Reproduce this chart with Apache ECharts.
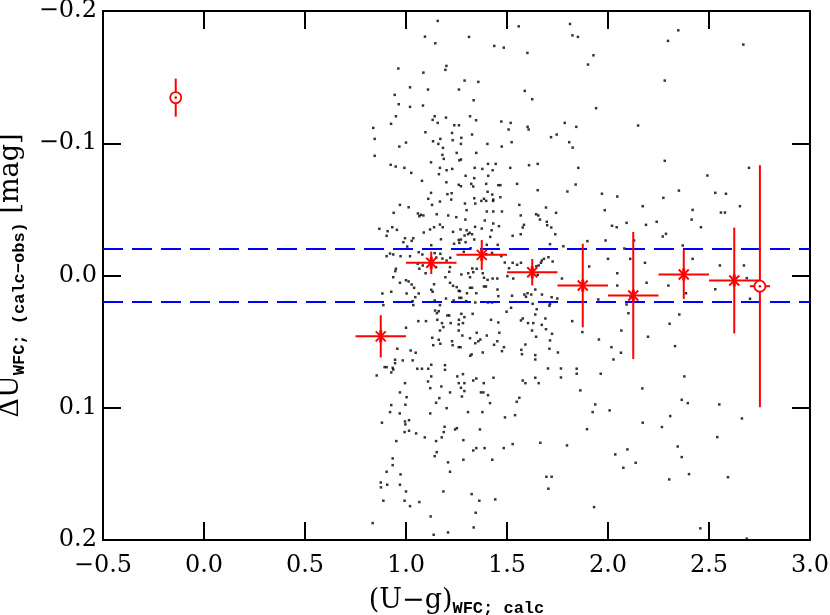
<!DOCTYPE html>
<html>
<head>
    <meta charset="utf-8">
    <script src="https://cdn.jsdelivr.net/npm/echarts@6/dist/echarts.min.js"></script>
    <style type="text/css">
        body { margin: 0; background: #fff; }
        #main { width: 830px; height: 615px; }
    </style>
</head>
<body>
    <div id="main"></div>
    <script>
        // binned means (stars) with y errors, bin half width 0.125
        const binX = [0.875, 1.125, 1.375, 1.625, 1.875, 2.125, 2.375, 2.625];
        const binY = [0.046, -0.0096, -0.0156, -0.0025, 0.0076, 0.0151, -0.0008, 0.0038];
        const binErrY = [0.016, 0.0085, 0.0113, 0.010, 0.0316, 0.048, 0.0185, 0.040];
        const binHalf = [0.125, 0.125, 0.125, 0.125, 0.125, 0.125, 0.125, 0.125];

        // the two open-circle points
        const circX = [-0.14, 2.752];
        const circY = [-0.1345, 0.0081];
        const circErrX = [0, 0.05];
        const circErrY = [0.0144, 0.0915];

        const limitLines = [0.02, -0.02];
        const xTicks = [-0.5, 0.0, 0.5, 1.0, 1.5, 2.0, 2.5, 3.0];
        const yTicks = [-0.2, -0.1, 0.0, 0.1, 0.2];

        // individual stars
        const dots = [
            [1.157,-0.1925],[1.094,-0.1806],[1.145,-0.1756],[1.200,-0.1585],[1.195,-0.1555],[0.962,-0.1565],[1.086,-0.1534],[1.020,-0.1423],[1.109,-0.1406],[1.262,-0.1406],[0.944,-0.1366],[0.964,-0.1295],[1.020,-0.1275],[1.084,-0.1285],[0.950,-0.1204],[1.142,-0.1204],[1.198,-0.1194],[1.132,-0.1177],[1.157,-0.1154],[0.838,-0.1116],[0.926,-0.1147],[1.239,-0.1136],[1.262,-0.1136],[1.096,-0.1083],[1.228,-0.1078],
            [0.845,-0.1033],[1.000,-0.1005],[1.134,-0.1015],[1.170,-0.1033],[1.160,-0.0995],[1.231,-0.1023],[0.967,-0.0975],[1.183,-0.0965],[0.845,-0.0905],[1.180,-0.0912],[1.251,-0.0927],[1.187,-0.0882],[1.264,-0.0871],[1.124,-0.0856],[0.924,-0.0837],[0.949,-0.0824],[0.992,-0.0814],[1.168,-0.0814],[1.201,-0.0796],[1.229,-0.0806],[1.026,-0.0776],[1.163,-0.0766],[1.079,-0.0716],[1.200,-0.0705],[1.261,-0.0686],[1.124,-0.0625],[1.205,-0.0615],[1.226,-0.0622],[1.110,-0.0580],[1.168,-0.0559],[1.224,-0.0574],[1.129,-0.0534],[0.970,-0.0534],[1.013,-0.0516],[0.939,-0.0474],[1.059,-0.0469],[1.074,-0.0459],[1.086,-0.0454],[1.066,-0.0448],[1.152,-0.0463],[1.209,-0.0454],[1.249,-0.0441],[1.168,-0.0385],[1.182,-0.0365],[1.139,-0.0365],[0.932,-0.0365],[0.868,-0.0353],[0.909,-0.0335],[0.955,-0.0345],[1.119,-0.0348],[1.088,-0.0325],[1.233,-0.0330],[0.904,-0.0300],[0.995,-0.0282],[1.036,-0.0282],[1.028,-0.0262],[1.173,-0.0274],[1.261,-0.0269],[0.987,-0.0252],[1.238,-0.0240],[1.125,-0.0229],[1.006,-0.0219],[1.264,-0.0247],[0.921,-0.0166],[0.937,-0.0159],[0.904,-0.0146],[0.973,-0.0146],[1.020,-0.0146],[1.063,-0.0176],[1.081,-0.0159],[1.142,-0.0169],[1.170,-0.0164],[1.150,-0.0136],[1.180,-0.0128],[1.219,-0.0134],[1.201,-0.0113],[1.058,-0.0088],[1.083,-0.0076],[1.218,-0.0063],[1.066,-0.0051],[0.950,-0.0051],[1.149,-0.0063],
            [0.947,-0.0033],[1.097,-0.0017],[1.214,-0.0028],[0.937,0.0013],[1.195,0.0013],[1.000,0.0036],[1.013,0.0045],[0.970,0.0055],[1.028,0.0068],[1.139,0.0066],[1.218,0.0055],[1.233,0.0078],[1.251,0.0088],[1.040,0.0093],[1.125,0.0108],[1.132,0.0123],[0.883,0.0136],[0.927,0.0123],[1.003,0.0136],[1.063,0.0136],[1.261,0.0116],[1.046,0.0164],[1.198,0.0174],[1.264,0.0169],[1.033,0.0194],[1.142,0.0189],[1.236,0.0189],[0.888,0.0224],[1.036,0.0224],[1.168,0.0224],[1.144,0.0265],[1.162,0.0270],[1.153,0.0285],[1.205,0.0302],[1.214,0.0302],[1.262,0.0335],[1.061,0.0345],[1.099,0.0345],[1.155,0.0335],[1.178,0.0360],[1.221,0.0360],[1.261,0.0370],[1.185,0.0390],[1.168,0.0416],[1.000,0.0395],[1.261,0.0416],[1.130,0.0471],[1.162,0.0486],[1.228,0.0497],[1.135,0.0527],[1.170,0.0516],[1.231,0.0527],[1.261,0.0542],[0.957,0.0554],[1.023,0.0567],[1.048,0.0584],[0.946,0.0637],[0.984,0.0642],[1.033,0.0642],[0.946,0.0663],[1.125,0.0675],[1.193,0.0678],[0.894,0.0693],[0.904,0.0693],[0.934,0.0698],[0.937,0.0711],[1.056,0.0705],[1.079,0.0705],[1.110,0.0705],[1.193,0.0713],[0.927,0.0733],[0.855,0.0756],[1.125,0.0763],[1.254,0.0763],[1.109,0.0801],[0.995,0.0814],[1.261,0.0814],[1.120,0.0852],[1.175,0.0839],[0.970,0.0884],[1.218,0.0884],[1.003,0.0920],[1.165,0.0927],[1.149,0.0962],[0.927,0.0980],[0.997,0.0977],
            [0.921,0.1033],[0.969,0.1043],[1.120,0.1043],[1.201,0.1003],[0.881,0.1113],[0.995,0.1104],[1.015,0.1094],[0.997,0.1126],[1.191,0.1144],[1.252,0.1154],[1.243,0.1164],[0.993,0.1184],[1.015,0.1174],[1.050,0.1194],[1.187,0.1184],[1.093,0.1224],[1.177,0.1224],[1.149,0.1252],[0.952,0.1252],[1.152,0.1336],[1.142,0.1366],[0.934,0.1383],[1.208,0.1413],[0.934,0.1434],[0.904,0.1484],[1.218,0.1484],[0.973,0.1504],[0.875,0.1565],[0.907,0.1582],[0.970,0.1582],[0.876,0.1602],[1.000,0.1633],[1.185,0.1633],[0.888,0.1703],[0.993,0.1703],[1.066,0.1713],[1.020,0.1744],[1.122,0.1822],[0.835,0.1872],[1.137,0.1960],[1.208,0.1943],
            [1.558,-0.1884],[1.812,-0.1902],[1.312,-0.1804],[1.437,-0.1736],[1.484,-0.1723],[1.601,-0.1683],[1.290,-0.1474],[1.358,-0.1464],[1.588,-0.1396],[1.625,-0.1333],[1.335,-0.1325],[1.317,-0.1204],[1.347,-0.1174],[1.472,-0.1164],[1.518,-0.1154],[1.786,-0.1154],[1.602,-0.1124],[1.607,-0.1104],[1.508,-0.1104],[1.327,-0.1066],[1.746,-0.1066],
            [1.274,-0.1041],[1.272,-0.0995],[1.403,-0.0995],[1.523,-0.1008],[1.474,-0.0975],[1.718,-0.1046],[1.348,-0.0927],[1.272,-0.0877],[1.406,-0.0844],[1.444,-0.0844],[1.340,-0.0814],[1.378,-0.0806],[1.429,-0.0796],[1.516,-0.0814],[1.609,-0.0834],[1.652,-0.0844],[1.407,-0.0754],[1.295,-0.0754],[1.338,-0.0736],[1.323,-0.0693],[1.397,-0.0693],[1.457,-0.0683],[1.467,-0.0683],[1.550,-0.0693],[1.272,-0.0675],[1.333,-0.0673],[1.404,-0.0633],[1.652,-0.0645],[1.799,-0.0635],[1.427,-0.0612],[1.338,-0.0584],[1.467,-0.0592],[1.432,-0.0574],[1.373,-0.0564],[1.386,-0.0580],[1.397,-0.0564],[1.431,-0.0564],[1.292,-0.0544],[1.343,-0.0544],[1.561,-0.0534],[1.400,-0.0484],[1.432,-0.0484],[1.300,-0.0494],[1.475,-0.0484],[1.693,-0.0514],[1.568,-0.0454],[1.644,-0.0463],[1.655,-0.0454],[1.743,-0.0474],[1.294,-0.0423],[1.390,-0.0416],[1.663,-0.0423],[1.697,-0.0406],[1.432,-0.0393],[1.460,-0.0373],[1.342,-0.0368],[1.375,-0.0355],[1.584,-0.0383],[1.578,-0.0363],[1.699,-0.0380],[1.719,-0.0363],[1.270,-0.0348],[1.300,-0.0342],[1.424,-0.0342],[1.315,-0.0323],[1.327,-0.0312],[1.290,-0.0302],[1.307,-0.0312],[1.417,-0.0292],[1.272,-0.0272],[1.338,-0.0272],[1.295,-0.0252],[1.568,-0.0312],[1.528,-0.0300],[1.739,-0.0312],[1.400,-0.0232],[1.454,-0.0232],[1.713,-0.0237],[1.320,-0.0206],[1.779,-0.0221],[1.286,-0.0179],[1.397,-0.0161],[1.426,-0.0171],[1.472,-0.0146],[1.705,-0.0138],[1.683,-0.0126],[1.672,-0.0113],[1.489,-0.0098],[1.528,-0.0096],[1.569,-0.0096],[1.550,-0.0081],[1.726,-0.0106],[1.668,-0.0096],[1.657,-0.0076],[1.645,-0.0070],[1.328,-0.0053],[1.350,-0.0051],[1.510,-0.0055],
            [1.274,-0.0008],[1.308,-0.0017],[1.333,-0.0025],[1.380,-0.0017],[1.317,0.0013],[1.386,0.0017],[1.404,0.0033],[1.429,0.0023],[1.452,0.0023],[1.502,0.0005],[1.531,0.0023],[1.652,-0.0005],[1.772,0.0023],[1.386,0.0083],[1.396,0.0083],[1.317,0.0093],[1.327,0.0093],[1.453,0.0106],[1.640,0.0106],[1.267,0.0118],[1.348,0.0134],[1.302,0.0134],[1.586,0.0144],[1.602,0.0134],[1.620,0.0144],[1.673,0.0144],[1.525,0.0153],[1.457,0.0156],[1.594,0.0161],[1.721,0.0164],[1.749,0.0174],[1.274,0.0169],[1.298,0.0194],[1.343,0.0204],[1.406,0.0204],[1.426,0.0204],[1.627,0.0214],[1.713,0.0214],[1.710,0.0229],[1.520,0.0244],[1.647,0.0255],[1.498,0.0274],[1.274,0.0290],[1.330,0.0290],[1.289,0.0315],[1.640,0.0295],[1.690,0.0325],[1.421,0.0335],[1.578,0.0325],[1.569,0.0340],[1.282,0.0360],[1.457,0.0355],[1.604,0.0360],[1.630,0.0360],[1.672,0.0373],[1.693,0.0406],[1.624,0.0416],[1.723,0.0441],[1.350,0.0433],[1.400,0.0454],[1.462,0.0433],[1.279,0.0454],[1.644,0.0463],[1.317,0.0474],[1.368,0.0484],[1.358,0.0497],[1.452,0.0497],[1.713,0.0491],[1.343,0.0512],[1.436,0.0524],[1.591,0.0522],[1.270,0.0542],[1.485,0.0542],[1.710,0.0554],[1.475,0.0572],[1.571,0.0562],[1.380,0.0582],[1.574,0.0595],[1.640,0.0602],[1.752,0.0582],[1.325,0.0597],[1.318,0.0607],[1.640,0.0635],[1.703,0.0703],[1.767,0.0703],[1.282,0.0746],[1.348,0.0779],[1.333,0.0794],[1.433,0.0773],[1.578,0.0794],[1.591,0.0814],[1.640,0.0773],[1.657,0.0814],[1.767,0.0771],[1.289,0.0814],[1.385,0.0814],[1.272,0.0849],[1.289,0.0874],[1.371,0.0884],[1.383,0.0884],[1.406,0.0905],[1.277,0.0915],[1.561,0.0925],[1.548,0.0955],[1.416,0.0965],
            [1.307,0.1033],[1.378,0.1033],[1.490,0.1073],[1.540,0.1056],[1.366,0.1164],[1.284,0.1245],[1.348,0.1305],[1.333,0.1323],[1.389,0.1305],[1.484,0.1305],[1.528,0.1275],[1.665,0.1265],[1.797,0.1285],[1.284,0.1393],[1.427,0.1393],[1.695,0.1522],[1.721,0.1522],[1.705,0.1612],[1.325,0.1653],[1.363,0.1703],[1.442,0.1693],[1.345,0.1794],[1.335,0.1905],
            [1.824,-0.1816],[1.851,-0.1804],[1.928,-0.1665],[1.901,-0.1595],[1.941,-0.1265],[2.149,-0.1134],[2.348,-0.1854],[2.297,-0.1774],[2.670,-0.1746],[2.281,-0.1474],[2.281,-0.0867],[2.492,-0.0756],[2.698,-0.0814],[2.531,-0.0625],[2.584,-0.0618],[2.653,-0.0524],[2.559,-0.0476],[2.579,-0.0476],[2.419,-0.0496],[2.414,-0.0423],[2.460,-0.0365],[2.351,-0.0642],[2.274,-0.0587],[2.241,-0.0406],[2.172,-0.0524],[2.188,-0.0383],[2.092,-0.0398],[2.020,-0.0376],[2.043,-0.0365],[2.271,-0.0295],[2.287,-0.0315],[2.129,-0.0265],[2.081,-0.0204],[2.000,-0.0126],[2.110,-0.0126],[1.907,-0.0068],[2.183,-0.0096],[2.419,-0.0126],[2.370,-0.0227],[2.554,-0.0076],[2.673,-0.0076],[2.687,0.0020],[2.046,-0.0017],[2.046,0.0076],[2.191,0.0055],[2.299,0.0076],[2.386,0.0134],[2.531,0.0104],[2.703,0.0176],[2.112,0.0164],[2.092,0.0219],[1.952,0.0181],
            [1.843,-0.1124],[1.808,-0.1008],[1.825,-0.0967],[1.853,-0.0814],[1.840,-0.0688],[1.970,-0.0618],[2.046,-0.0597],[1.984,-0.0494],[1.898,-0.0260],[1.988,-0.0265],
            [1.873,0.0428],[1.955,0.0484],[1.823,0.0345],[2.017,0.0542],[2.027,0.0635],[2.064,0.0584],[2.066,0.0416],[2.101,0.0285],[2.198,0.0463],[2.305,0.0365],[2.353,0.0295],[2.332,0.0534],[2.378,0.0763],[2.365,0.0940],[2.395,0.0965],[2.308,0.1063],[2.267,0.1146],[2.170,0.0854],[2.172,0.1113],[2.008,0.1020],[1.964,0.0743],[1.924,0.1033],[1.937,0.0975],[1.896,0.1162],[1.863,0.0869],[1.845,0.0705],[1.845,0.0743],[2.345,0.1293],[2.365,0.1373],[2.401,0.1502],[2.303,0.1542],[2.036,0.1353],[2.096,0.1315],[2.076,0.1454],[2.137,0.1416],[1.931,0.1751],[2.551,0.0975],[2.663,0.1081],[2.541,0.1222],[2.594,0.1525],[2.457,0.1912],[2.687,0.1990]
        ];

        const RED = '#ff0000';
        const FONT = 'DejaVu Serif';
        const SUB = 'Liberation Mono';

        // [x, y, xerr, yerr, kind] kind 0 = asterisk, 1 = open circle
        const errData = binX.map((x, i) => [x, binY[i], binHalf[i], binErrY[i], 0])
            .concat(circX.map((x, i) => [x, circY[i], circErrX[i], circErrY[i], 1]));

        function fmt(v) {
            const s = Math.abs(v).toFixed(1);
            return (v < -1e-9 ? '\u2212' : '') + s;
        }

        function renderErr(params, api) {
            const x = api.value(0), y = api.value(1), ex = api.value(2), ey = api.value(3), kind = api.value(4);
            const c = api.coord([x, y]);
            const l = api.coord([x - ex, y]), r = api.coord([x + ex, y]);
            const t = api.coord([x, y - ey]), b = api.coord([x, y + ey]);
            const ls = { stroke: RED, lineWidth: 2 };
            const kids = [];
            if (ex > 0) kids.push({ type: 'line', shape: { x1: l[0], y1: l[1], x2: r[0], y2: r[1] }, style: ls });
            kids.push({ type: 'line', shape: { x1: t[0], y1: t[1], x2: b[0], y2: b[1] }, style: ls });
            if (kind === 0) {
                const s = 5;
                kids.push({ type: 'line', shape: { x1: c[0] - s, y1: c[1] - s, x2: c[0] + s, y2: c[1] + s }, style: ls });
                kids.push({ type: 'line', shape: { x1: c[0] - s, y1: c[1] + s, x2: c[0] + s, y2: c[1] - s }, style: ls });
                kids.push({ type: 'line', shape: { x1: c[0], y1: c[1] - s - 1, x2: c[0], y2: c[1] + s + 1 }, style: { stroke: RED, lineWidth: 3 } });
            } else {
                kids.push({ type: 'circle', shape: { cx: c[0], cy: c[1], r: 5.5 }, style: { fill: '#fff', stroke: RED, lineWidth: 1.8 } });
                kids.push({ type: 'circle', shape: { cx: c[0], cy: c[1], r: 1.3 }, style: { fill: RED } });
            }
            return { type: 'group', children: kids };
        }

        const chart = echarts.init(document.getElementById('main'));
        const axisLine = { show: true, onZero: false, lineStyle: { color: '#000', width: 2 } };
        const tick = { show: true, inside: true, length: 18, lineStyle: { color: '#000', width: 2 } };
        const nameRich = {
            a: { fontFamily: FONT, fontSize: 27, color: '#000' },
            s: { fontFamily: SUB, fontWeight: 'bold', fontSize: 17, color: '#000', padding: [16, 0, 0, 0] }
        };

        chart.setOption({
            animation: false,
            backgroundColor: '#fff',
            grid: { left: 103, top: 11, right: 20, bottom: 75, outerBoundsMode: 'none' },
            xAxis: [{
                type: 'value', min: xTicks[0], max: xTicks[xTicks.length - 1], interval: 0.5,
                axisLine: axisLine, axisTick: tick, splitLine: { show: false },
                axisLabel: { color: '#000', fontFamily: FONT, fontSize: 24, margin: 14, formatter: fmt },
                name: '{a|(U\u2212g)}{s|WFC; calc}',
                nameLocation: 'middle', nameGap: 44,
                nameTextStyle: { rich: nameRich }
            }, {
                type: 'value', position: 'top', min: xTicks[0], max: xTicks[xTicks.length - 1], interval: 0.5,
                axisLine: axisLine, axisTick: tick, axisLabel: { show: false }, splitLine: { show: false }
            }],
            yAxis: [{
                type: 'value', inverse: true, min: yTicks[0], max: yTicks[yTicks.length - 1], interval: 0.1,
                axisLine: axisLine, axisTick: tick, splitLine: { show: false },
                axisLabel: { color: '#000', fontFamily: FONT, fontSize: 24, margin: 6, formatter: fmt },
                name: '{a|\u0394U}{s|WFC; (calc\u2212obs)}{a| [mag]}',
                nameLocation: 'middle', nameRotate: 90, nameGap: 72,
                nameTextStyle: { rich: nameRich }
            }, {
                type: 'value', position: 'right', inverse: true, min: yTicks[0], max: yTicks[yTicks.length - 1], interval: 0.1,
                axisLine: axisLine, axisTick: tick, axisLabel: { show: false }, splitLine: { show: false }
            }],
            series: [{
                type: 'scatter',
                data: dots,
                symbol: 'rect',
                symbolSize: 2.5,
                itemStyle: { color: '#000' },
                silent: true,
                markLine: {
                    silent: true,
                    symbol: 'none',
                    label: { show: false },
                    lineStyle: { color: '#0000ff', width: 2, type: [20, 9] },
                    data: limitLines.map(v => ({ yAxis: v }))
                },
                z: 2
            }, {
                type: 'custom',
                data: errData,
                renderItem: renderErr,
                silent: true,
                z: 5
            }]
        });
    </script>
</body>
</html>
